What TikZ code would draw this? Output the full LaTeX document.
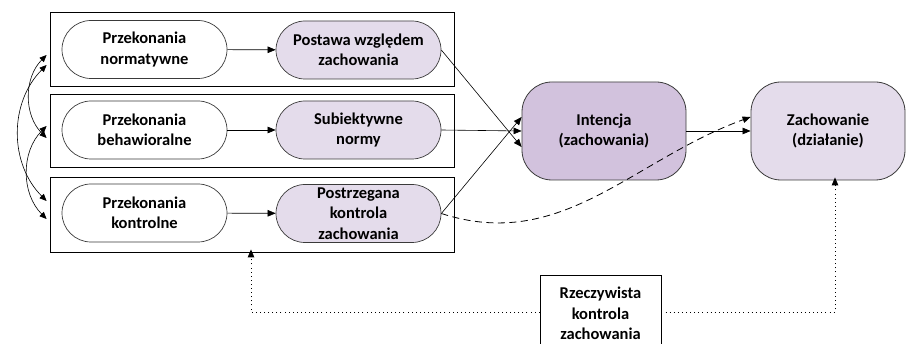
\documentclass[tikz,border=0pt]{standalone}
\usepackage{fontspec}
\setmainfont{Carlito}
\usetikzlibrary{arrows.meta,calc}
\definecolor{lilac}{HTML}{E4DCEB}
\definecolor{lilacdark}{HTML}{D2C2DD}
\definecolor{edge}{HTML}{3A3A3A}
\tikzset{
  lbl/.style={font=\bfseries\fontsize{16.5}{20.5}\selectfont, align=center, text=black},
  group/.style={draw=black, line width=0.8pt, minimum width=404pt, inner sep=0pt},
  pill/.style={lbl, draw=edge, line width=0.7pt, minimum width=165pt, minimum height=58pt,
               inner sep=0pt, rounded corners=29pt},
  bigbox/.style={lbl, draw=edge, line width=0.8pt, minimum height=98pt, inner sep=0pt,
                 rounded corners=30pt},
  tip/.style={-{Triangle[length=8pt,width=6.5pt]}},
  twotip/.style={{Triangle[length=7pt,width=6pt]}-{Triangle[length=7pt,width=6pt]}},
  link/.style={tip, line width=0.6pt, black},
  feedback/.style={link, line width=0.9pt, dash pattern=on 0.9pt off 3.2pt},
}
\begin{document}
\begin{tikzpicture}[x=1pt,y=-1pt]
\useasboundingbox (0,0) rectangle (908,344);
\clip (0,0) rectangle (908,344);

% three grouping frames
\node[group, minimum height=74pt] (g1) at (252,49) {};
\node[group, minimum height=73pt] (g2) at (252,130.5) {};
\node[group, minimum height=75pt] (g3) at (252,214.5) {};

% beliefs
\node[pill, fill=white] (b1) at (144.5,49.5) {Przekonania\\normatywne};
\node[pill, fill=white] (b2) at (144.5,130) {Przekonania\\behawioralne};
\node[pill, fill=white] (b3) at (144.5,213) {Przekonania\\kontrolne};

% constructs
\node[pill, fill=lilac] (c1) at (358.5,50) {Postawa względem\\zachowania};
\node[pill, fill=lilac] (c2) at (358.5,130) {Subiektywne\\normy};
\node[pill, fill=lilac] (c3) at (358.5,213.5) {Postrzegana\\kontrola\\zachowania};

% intention and behaviour
\node[bigbox, fill=lilacdark, minimum width=164pt] (int) at (604,131) {Intencja\\(zachowania)};
\node[bigbox, fill=lilac, minimum width=154pt] (beh) at (828,131) {Zachowanie\\(działanie)};

% actual control
\node[lbl, draw=black, line width=0.8pt, minimum width=121pt, minimum height=76pt,
      inner sep=0pt, anchor=north] (act) at (600.5,275) {Rzeczywista\\kontrola\\zachowania};

% arrows within frames
\draw[link] (b1) -- (c1);
\draw[link] (b2) -- (c2);
\draw[link] (b3) -- (c3);

% arrows to intention
\draw[link] (c1.east) -- ([yshift=-16pt]int.west);
\draw[link] (c2.east) -- (int.west);
\draw[link] (c3.east) -- ([yshift=14pt]int.west);

% intention to behaviour
\draw[link] (int.east) -- (beh.west);
\draw[link, dash pattern=on 7pt off 4.5pt, line width=0.8pt] (c3.east) to[out=-18, in=200] ([yshift=14pt]beh.west);

% correlations between belief groups
\draw[twotip, line width=0.6pt] ([yshift=-16pt,xshift=-3pt]g1.west) to[out=225, in=135] ([yshift=13.5pt,xshift=-3pt]g3.west);
\draw[twotip, line width=0.6pt] ([yshift=-6pt,xshift=-3pt]g1.west) to[out=225, in=135] ([yshift=-7.5pt,xshift=-3pt]g2.west);
\draw[twotip, line width=0.6pt] ([yshift=4.5pt,xshift=-3pt]g2.west) to[out=225, in=135] ([yshift=-4.5pt,xshift=-3pt]g3.west);

% actual control feedback
\coordinate (lc) at (251,312);
\coordinate (rc) at (835,312);
\draw[feedback] (act.west |- lc) -- (lc) -- ([yshift=3pt]g3.south -| lc);
\draw[feedback] (act.east |- rc) -- (rc) -- ([yshift=3pt]beh.south -| rc);
\end{tikzpicture}
\end{document}
